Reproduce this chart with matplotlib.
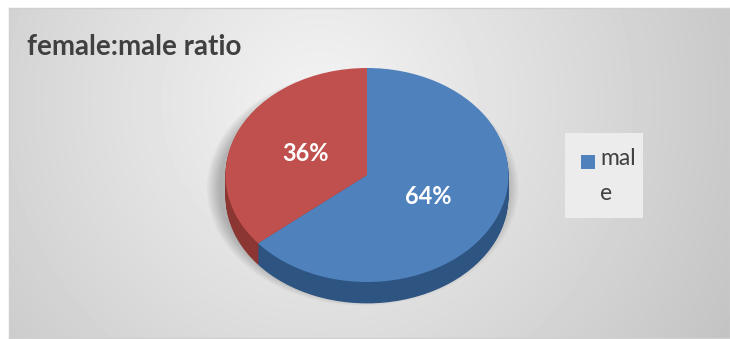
import matplotlib.pyplot as plt
import numpy as np
from matplotlib.patches import Rectangle

# data
shares = [64, 36]                 # blue (first, clockwise from 12 o'clock), red
top_colors = ['#4F81BD', '#C0504D']
side_colors = ['#2E5481', '#8C3633']
legend_label = 'mal\ne'
title = 'female:male ratio'

W, H = 730, 339
fig = plt.figure(figsize=(W / 100, H / 100), dpi=100)
fig.patch.set_facecolor('white')

# chart area with radial grey gradient
cx0, cy0, cw, ch = 9, 8, 721, 330
bg = fig.add_axes([cx0 / W, (H - cy0 - ch) / H, cw / W, ch / H])
yy, xx = np.mgrid[0:ch, 0:cw]
d = np.hypot(xx - 310, yy - 95) / 460.0
img = 0.95 - 0.18 * np.clip(d, 0, 1.3) ** 1.1
bg.imshow(img, cmap='gray', vmin=0, vmax=1, aspect='auto', interpolation='bilinear')
bg.set_xticks([])
bg.set_yticks([])
for s in bg.spines.values():
    s.set_color('#d0d0d0')
    s.set_linewidth(1)

# pie axes, stretched so the unit circle becomes an ellipse
pcx, pcy, a, b = 367, 175, 141.5, 107
xl, yl = (-1.3, 1.3), (-1.5, 1.3)
left = pcx + xl[0] * a
top = pcy - yl[1] * b
pw = (xl[1] - xl[0]) * a
ph = (yl[1] - yl[0]) * b
ax = fig.add_axes([left / W, (H - top - ph) / H, pw / W, ph / H])
ax.patch.set_alpha(0)

# soft shadow
for k in range(8):
    ax.pie([1], radius=1.10 - 0.012 * k, center=(-0.03, -0.12),
           colors=[(0, 0, 0, 0.03)], wedgeprops=dict(linewidth=0))

# 3d side
depth = 0.2
n = 24
for k in range(n):
    ax.pie(shares, colors=side_colors, startangle=90, counterclock=False,
           center=(0, -depth + depth * k / n), wedgeprops=dict(linewidth=0))

# top face
wedges, texts, autotexts = ax.pie(
    shares, colors=top_colors, startangle=90, counterclock=False,
    autopct='%1.0f%%', pctdistance=0.48,
    textprops=dict(color='white', fontsize=17, fontweight='bold', family='Lato'),
    wedgeprops=dict(linewidth=0))

ax.set_aspect('auto')
ax.set_xlim(*xl)
ax.set_ylim(*yl)
ax.axis('off')

# overlay in pixel coordinates for title and legend
ov = fig.add_axes([0, 0, 1, 1])
ov.set_xlim(0, W)
ov.set_ylim(H, 0)
ov.axis('off')
ov.patch.set_alpha(0)

ov.text(27, 47, title, va='center', ha='left', fontsize=20, fontweight='bold',
        color='#404040', family='Lato')

ov.add_patch(Rectangle((565, 133), 78, 85, facecolor='#ececec', edgecolor='none'))
ov.add_patch(Rectangle((581, 155), 14, 14, facecolor=wedges[0].get_facecolor(),
                       edgecolor='none'))
ov.text(600, 148, legend_label, va='top', ha='left', fontsize=16.5,
        color='#404040', family='Lato', linespacing=1.85)

fig.savefig('out.png', dpi=100)
